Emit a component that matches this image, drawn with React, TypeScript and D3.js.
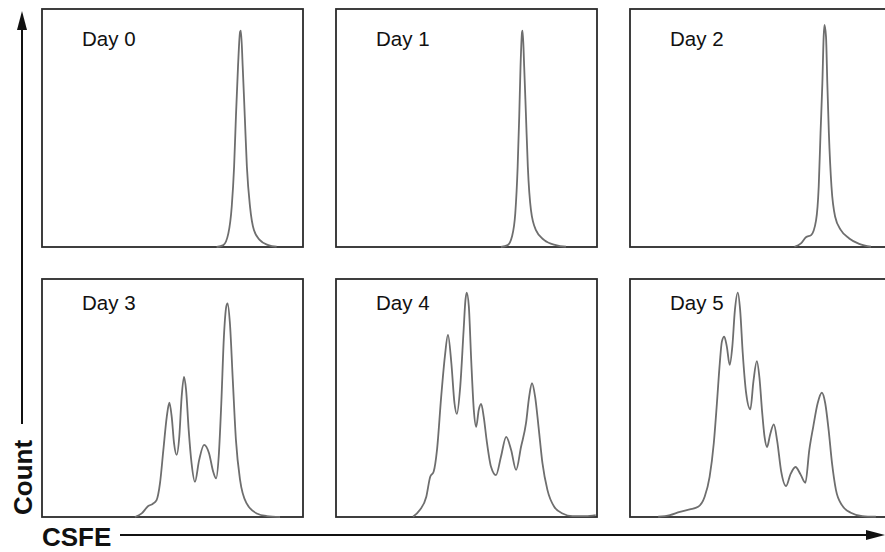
import React from "react";
import * as d3 from "d3";

// CSFE intensity (0-100) vs normalised count (0-100)
const dayLabels = ["Day 0", "Day 1", "Day 2", "Day 3", "Day 4", "Day 5"];

const day0: [number, number][] = [
  [66.9, 0], [69.5, 0.8], [71.4, 5.7], [72.7, 17], [73.6, 33.7], [74.3, 54.7],
  [75.1, 75.8], [75.9, 90.4], [76.2, 90.9], [76.9, 75.8], [77.7, 54.7],
  [78.5, 33.7], [79.7, 17], [81.2, 7.1], [83.5, 2.9], [86.7, 0.8], [89.9, 0.1],
];

const day1: [number, number][] = [
  [63.2, 0], [65.8, 0.8], [67.4, 4.3], [68.7, 14.3], [69.6, 33.7], [70.2, 54.7],
  [70.7, 75.8], [71.3, 90.4], [71.5, 90.9], [72.1, 75.8], [72.8, 54.7],
  [73.5, 33.7], [74.7, 15.5], [76.6, 7.1], [79.8, 2.9], [84.2, 0.8], [88.1, 0.1],
];

const day2: [number, number][] = [
  [63.0, 0.1], [65.5, 1.5], [67.4, 4.1], [69.4, 5.0], [71.3, 11.3], [72.3, 25.3],
  [73.0, 47.8], [73.7, 68.8], [74.2, 88.4], [74.5, 93.3], [75.1, 88.4],
  [75.6, 68.8], [76.2, 47.8], [77.2, 25.3], [78.6, 12.7], [80.8, 7.1],
  [84.0, 3.6], [87.8, 1.3], [92.3, 0.1],
];

const day3: [number, number][] = [
  [35.6, 0], [38.2, 1.5], [40.7, 4.6], [42.4, 5.5], [43.9, 7.1], [45.2, 14.1],
  [46.5, 28.2], [47.8, 42.1], [48.8, 48.0], [49.7, 42.1], [50.6, 30.9],
  [51.6, 26.1], [52.6, 33.7], [53.5, 50.5], [54.4, 58.9], [55.2, 53.4],
  [56.2, 36.6], [57.3, 22.6], [58.6, 14.8], [60.2, 23.9], [62.1, 30.3],
  [64.0, 26.8], [65.6, 19.0], [66.7, 16.2], [67.7, 25.3], [68.7, 47.8],
  [69.7, 75.8], [70.6, 88.4], [71.1, 89.8], [72.0, 81.4], [73.1, 57.6],
  [74.3, 32.4], [75.9, 15.5], [78.4, 5.7], [82.3, 1.5], [86.1, 0.4], [91.2, 0],
];

const day4: [number, number][] = [
  [29.5, 0.1], [32.1, 2.9], [34.6, 8.5], [36.1, 16.9], [37.4, 19.0], [38.7, 28.2],
  [40.3, 50.5], [41.7, 67.3], [42.9, 76.5], [44.2, 64.6], [45.4, 47.8],
  [46.3, 43.3], [47.6, 54.8], [48.9, 78.6], [49.6, 91.2], [50.1, 94.3],
  [50.9, 88.4], [51.8, 66.0], [52.8, 45.0], [53.7, 37.9], [54.7, 45.0],
  [55.6, 47.5], [56.6, 42.1], [57.7, 32.4], [59.4, 21.1], [61.3, 17.6],
  [63.2, 25.3], [65.2, 33.7], [67.1, 28.2], [69.0, 19.8], [70.9, 29.5],
  [72.8, 39.4], [74.0, 50.5], [75.1, 56.2], [76.3, 50.5], [77.6, 37.9],
  [79.1, 22.6], [81.0, 11.4], [83.6, 4.3], [86.8, 1.5], [90.6, 0.4],
  [95.7, 0.4], [99.5, 0.8],
];

const day5: [number, number][] = [
  [10.8, 0.1], [15.3, 0.8], [19.1, 2.2], [22.9, 3.2], [26.1, 4.3], [28.6, 8.5],
  [30.5, 16.9], [32.1, 31.0], [33.3, 47.8], [34.4, 64.6], [35.2, 73.7],
  [36.1, 75.8], [37.1, 71.6], [38.2, 63.9], [39.2, 71.6], [40.2, 87.0],
  [41.3, 94.3], [42.2, 87.0], [43.2, 68.8], [44.5, 52.0], [46.1, 45.2],
  [47.3, 57.1], [48.6, 65.5], [49.6, 58.5], [50.6, 44.5], [51.6, 33.3],
  [52.5, 29.4], [53.7, 34.7], [55.1, 38.9], [56.4, 31.9], [57.9, 19.3],
  [59.8, 13.0], [61.5, 18.0], [63.4, 21.0], [65.3, 18.0], [67.2, 14.4],
  [68.7, 28.2], [70.2, 37.9], [71.9, 47.8], [73.5, 52.2], [74.8, 47.8],
  [76.1, 36.6], [77.4, 22.6], [78.9, 11.4], [81.2, 5.0], [84.6, 1.8],
  [89.0, 0.4], [94.2, 0.1],
];

const series = [day0, day1, day2, day3, day4, day5];

const width = 885;
const height = 552;
const panelW = 261;
const panelH = 238;
const colLeft = [42, 336, 630];
const rowTop = [9, 279];

const font = "'Liberation Sans', Arial, Helvetica, sans-serif";

export default function App() {
  const x = d3.scaleLinear().domain([0, 100]).range([0, panelW]);
  const y = d3.scaleLinear().domain([0, 100]).range([panelH, 0]);

  const line = d3
    .line<[number, number]>()
    .x(d => x(d[0]))
    .y(d => y(d[1]))
    .curve(d3.curveMonotoneX);

  return (
    <svg
      width={width}
      height={height}
      style={{ position: "absolute", left: 0, top: 0, background: "#fff" }}
    >
      {series.map((data, i) => {
        const px = colLeft[i % 3];
        const py = rowTop[Math.floor(i / 3)];
        return (
          <g key={i} transform={`translate(${px},${py})`}>
            <rect
              width={panelW}
              height={panelH}
              fill="#fff"
              stroke="#2b2b2b"
              strokeWidth={1.8}
            />
            <path d={line(data) || ""} fill="none" stroke="#6e6e6e" strokeWidth={1.8} />
            <text
              x={40}
              y={i < 3 ? 37 : 31}
              fontFamily={font}
              fontSize={20.5}
              fill="#111"
            >
              {dayLabels[i]}
            </text>
          </g>
        );
      })}

      {/* y axis: Count */}
      <line x1={22} y1={28} x2={22} y2={424} stroke="#111" strokeWidth={2} />
      <polygon points="22,11 17,30 27,30" fill="#111" />
      <text
        transform="translate(32,515) rotate(-90)"
        fontFamily={font}
        fontWeight="bold"
        fontSize={26}
        fill="#111"
      >
        Count
      </text>

      {/* x axis: CSFE */}
      <text x={42} y={546} fontFamily={font} fontWeight="bold" fontSize={26} fill="#111">
        CSFE
      </text>
      <line x1={120} y1={535} x2={874} y2={535} stroke="#111" strokeWidth={2} />
      <polygon points="885,535 866,530 866,540" fill="#111" />
    </svg>
  );
}
